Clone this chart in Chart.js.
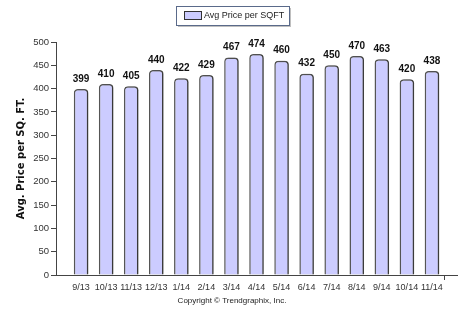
<!DOCTYPE html>
<html>
<head>
<meta charset="utf-8">
<script src="https://cdn.jsdelivr.net/npm/chart.js@4.4.1/dist/chart.umd.min.js"></script>
<style>
  html, body { margin: 0; padding: 0; background: #fff; }
  #wrap { width: 475px; height: 327px; position: relative; }
</style>
</head>
<body>
<div id="wrap"><canvas id="chart" width="475" height="327"></canvas></div>
<script>
// ---------------- DATA ----------------

const months = ["9/13", "10/13", "11/13", "12/13", "1/14", "2/14", "3/14", "4/14",
                "5/14", "6/14", "7/14", "8/14", "9/14", "10/14", "11/14"];
const avgPrice = [399, 410, 405, 440, 422, 429, 467, 474, 460, 432, 450, 470, 463, 420, 438];
const yTicks = [0, 50, 100, 150, 200, 250, 300, 350, 400, 450, 500];

const seriesName = "Avg Price per SQFT";
const yTitle = "Avg. Price per SQ. FT.";
const footer = "Copyright \u00A9 Trendgraphix, Inc.";

// empty slot on each end so the axis runs a little past the first/last bar
const labels = [""].concat(months, [""]);
const values = [null].concat(avgPrice, [null]);

const FONT = "'Liberation Sans', Arial, sans-serif";
const TFONT = "'DejaVu Sans', Verdana, sans-serif";
const AXIS = "#444";

// ---------------- PLUGINS ----------------

const shadowPlugin = {
  id: "barShadow",
  beforeDatasetsDraw(chart) {
    const c = chart.ctx;
    c.save();
    c.shadowColor = "rgba(0,0,0,0.35)";
    c.shadowBlur = 2;
    c.shadowOffsetX = 2;
    c.shadowOffsetY = 0;
  },
  afterDatasetsDraw(chart) {
    chart.ctx.restore();
  }
};

const extrasPlugin = {
  id: "extras",
  afterDraw(chart) {
    const c = chart.ctx;
    const meta = chart.getDatasetMeta(0);

    // value labels
    c.save();
    c.font = "bold 10px " + FONT;
    c.fillStyle = "#111";
    c.textAlign = "center";
    c.textBaseline = "bottom";
    meta.data.forEach((bar, i) => {
      const v = values[i];
      if (v == null) return;
      c.fillText(String(v), bar.x, bar.y - 5);
    });
    c.restore();

    // legend box
    c.save();
    const lx = 176, ly = 6, lw = 113, lh = 19;
    c.fillStyle = "rgba(0,0,0,0.25)";
    c.fillRect(lx + 2, ly + 2, lw, lh);
    c.fillStyle = "#fff";
    c.fillRect(lx, ly, lw, lh);
    c.strokeStyle = "#5a6a8a";
    c.lineWidth = 1;
    c.strokeRect(lx + 0.5, ly + 0.5, lw, lh);
    c.fillStyle = "#ccccff";
    c.fillRect(184, 11, 17, 8);
    c.strokeStyle = "#333";
    c.strokeRect(184.5, 11.5, 17, 8);
    c.fillStyle = "#222";
    c.font = "9px " + FONT;
    c.textAlign = "left";
    c.textBaseline = "middle";
    c.fillText(seriesName, 204, 16);
    c.restore();

    // copyright
    c.save();
    c.fillStyle = "#222";
    c.font = "8px " + FONT;
    c.textAlign = "center";
    c.textBaseline = "middle";
    c.fillText(footer, 232, 301);
    c.restore();
  }
};

// ---------------- CHART ----------------

const ctx = document.getElementById("chart").getContext("2d");

const chart = new Chart(ctx, {
  type: "bar",
  data: {
    labels: labels,
    datasets: [{
      label: seriesName,
      data: values,
      backgroundColor: "#ccccff",
      borderColor: "#555",
      borderWidth: 1.5,
      borderSkipped: "start",
      borderRadius: { topLeft: 4, topRight: 4, bottomLeft: 0, bottomRight: 0 },
      categoryPercentage: 1,
      barPercentage: 0.58
    }]
  },
  options: {
    responsive: false,
    animation: false,
    devicePixelRatio: 1,
    layout: { padding: { top: 42, right: 18, bottom: 0, left: 0 } },
    plugins: {
      legend: { display: false },
      tooltip: { enabled: false }
    },
    scales: {
      x: {
        offset: false,
        grid: {
          drawOnChartArea: false,
          drawTicks: true,
          tickLength: 5,
          color: (c) => (c.index === 0 || c.index === labels.length - 1) ? AXIS : "rgba(0,0,0,0)"
        },
        border: { color: AXIS, width: 1 },
        ticks: {
          autoSkip: false,
          maxRotation: 0,
          padding: 2,
          color: "#333",
          font: { family: FONT, size: 9 }
        },
        afterFit(scale) { scale.height = 52; }
      },
      y: {
        min: 0,
        max: 500,
        afterBuildTicks(scale) { scale.ticks = yTicks.map(v => ({ value: v })); },
        grid: {
          drawOnChartArea: false,
          drawTicks: true,
          tickLength: 5,
          color: AXIS
        },
        border: { color: AXIS, width: 1 },
        ticks: {
          padding: 2,
          color: "#333",
          font: { family: FONT, size: 9.5 }
        },
        title: {
          display: true,
          text: yTitle,
          color: "#111",
          padding: { top: 15, bottom: 0 },
          font: { family: TFONT, size: 10, weight: "bold" }
        },
        afterFit(scale) { scale.width = 56; }
      }
    }
  },
  plugins: [shadowPlugin, extrasPlugin]
});
</script>
</body>
</html>
